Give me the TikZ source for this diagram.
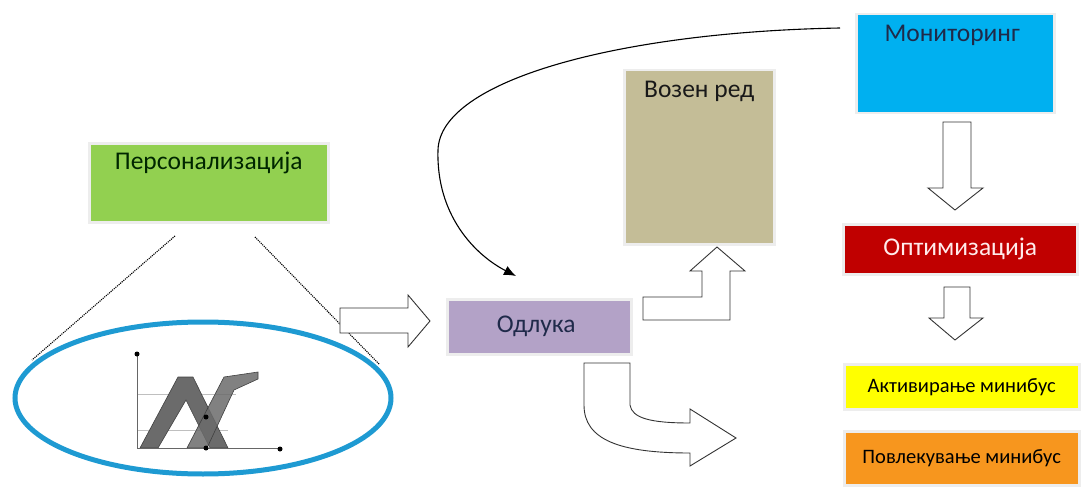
\documentclass[tikz,border=0pt]{standalone}
\usepackage{fontspec}
\setmainfont{Carlito}
\usetikzlibrary{arrows.meta,shapes.geometric}
\definecolor{cgreen}{HTML}{92D050}
\definecolor{ctan}{HTML}{C4BD97}
\definecolor{cpurple}{HTML}{B3A2C7}
\definecolor{cblue}{HTML}{00B0F0}
\definecolor{cred}{HTML}{C00000}
\definecolor{cyellow}{HTML}{FFFF00}
\definecolor{corange}{HTML}{F7961E}
\definecolor{cring}{HTML}{1E9AD2}
\definecolor{navy}{HTML}{1F2A4A}
\tikzset{
  box/.style={draw=black!7, line width=2.5pt, inner sep=0pt, anchor=north west},
  lbl/.style={inner sep=0pt, anchor=north, font=\fontsize{25.5}{28}\selectfont},
  blockarrow/.style={draw=black!80, line width=0.9pt, fill=white, line join=miter},
  dots/.style={draw=black, line width=1.1pt, densely dotted},
  chartband/.style={fill=black!58, draw=black!75, line width=0.6pt},
}
\begin{document}
\begin{tikzpicture}[x=1pt,y=-1pt]
\useasboundingbox (0,0) rectangle (1088,487);
% boxes
\node[box, fill=cgreen, minimum width=239pt, minimum height=79pt] (pers) at (88,142) {};
\node[lbl, text=black!70!green!50!black] (perst) at ([yshift=-10pt]pers.north) {Персонализација};
\node[box, fill=ctan, minimum width=150pt, minimum height=174pt] (voz) at (623,69) {};
\node[lbl, text=black!90] (vozt) at ([yshift=-12pt]voz.north) {Возен ред};
\node[box, fill=cpurple, minimum width=184pt, minimum height=55pt] (odl) at (446,298) {};
\node[lbl, text=navy, anchor=center] (odlt) at ([xshift=-3pt]odl.center) {Одлука};
\node[box, fill=cblue, minimum width=198pt, minimum height=99pt] (mon) at (855,13) {};
\node[lbl, text=navy] (mont) at ([xshift=-3pt,yshift=-12pt]mon.north) {Мониторинг};
\node[box, fill=cred, minimum width=234pt, minimum height=50pt] (opt) at (842,223) {};
\node[lbl, text=red!8, anchor=center] (optt) at (opt.center) {Оптимизација};
\node[box, fill=cyellow, minimum width=235pt, minimum height=45pt] (akt) at (843,363) {};
\node[lbl, anchor=center, font=\fontsize{20.5}{24}\selectfont] (aktt) at (akt.center) {Активирање минибус};
\node[box, fill=corange, minimum width=235pt, minimum height=54pt] (pov) at (843,430) {};
\node[lbl, anchor=center, font=\fontsize{20.5}{24}\selectfont] (povt) at (pov.center) {Повлекување минибус};
% ellipse and chart
\node[draw=cring, line width=5pt, ellipse, minimum width=376pt, minimum height=152pt, inner sep=0pt] (ring) at (203,398) {};
\coordinate (dl1) at (175,236);
\coordinate (dl2) at (32,360);
\coordinate (dr1) at (255,237);
\coordinate (dr2) at (379,364);
\draw[dots] (dl1) -- (dl2);
\draw[dots] (dr1) -- (dr2);
% chart
\draw[black!25, line width=0.6pt] (137,394) -- (236,394) (137,430) -- (228,430);
\draw[chartband] (140,448) -- (178,377) -- (193,377) -- (228,448) -- (210,448) -- (186,400) -- (158,448) -- cycle;
\draw[chartband, fill opacity=0.85] (187,448) -- (224,377) -- (258,372) -- (258,379) -- (234,390) -- (207,448) -- cycle;
\draw[black!60, line width=0.6pt] (137,354) -- (137,448) -- (280,448);
\node[circle, fill=black, inner sep=0pt, minimum size=5pt] (d1) at (137,354) {};
\node[circle, fill=black, inner sep=0pt, minimum size=5pt] (d2) at (280,449) {};
\node[circle, fill=black, inner sep=0pt, minimum size=5pt] (d3) at (206,417) {};
\node[circle, fill=black, inner sep=0pt, minimum size=5pt] (d4) at (206,448) {};
% block arrow right (to Odluka)
\draw[blockarrow] (340,308) -- (408,308) -- (408,295) -- (430,321) -- (408,347) -- (408,333) -- (340,333) -- cycle;
% up bent arrow to Vozen red
\draw[blockarrow] (643,297) -- (702,297) -- (702,271) -- (690,271) -- (717,247) -- (745,271) -- (730,271) -- (730,320) -- (643,320) -- cycle;
% curved arrow down-right
\draw[blockarrow] (584,363) -- (630,363) -- (630,405) .. controls (632,418) and (650,423) .. (690,423) -- (690,409) -- (736,438) -- (690,466) -- (690,453) .. controls (620,453) and (584,440) .. (584,405) -- cycle;
% down arrows
\draw[blockarrow] (943,122) -- (971,122) -- (971,188) -- (983,188) -- (955,210) -- (928,188) -- (943,188) -- cycle;
\draw[blockarrow] (944,287) -- (970,287) -- (970,318) -- (983,318) -- (955,340) -- (929,318) -- (944,318) -- cycle;
% curved connector Monitoring -> Odluka
\coordinate (cstart) at (840,28);
\coordinate (cend) at (516,276);
\draw[black, line width=1.1pt, -{Latex[length=12pt,width=10pt]}] (cstart) .. controls (620,32) and (440,80) .. (438,150) .. controls (436,215) and (475,255) .. (cend);
\end{tikzpicture}
\end{document}
